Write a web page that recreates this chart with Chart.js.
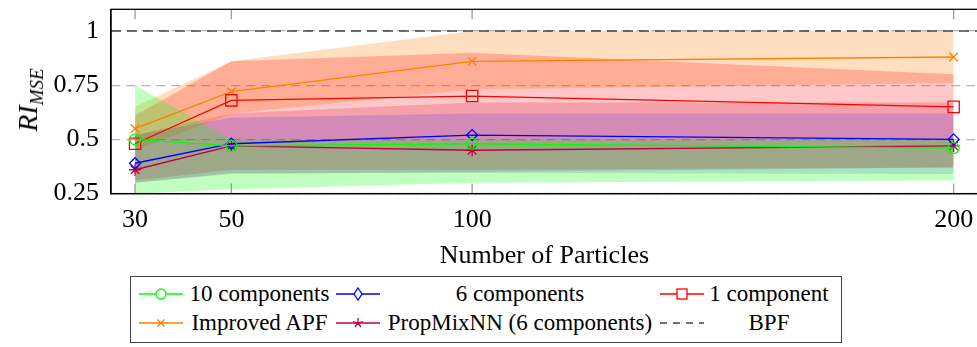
<!DOCTYPE html>
<html>
<head>
<meta charset="utf-8">
<script src="https://cdn.jsdelivr.net/npm/chart.js@4.4.0/dist/chart.umd.min.js"></script>
<style>
  html, body { margin: 0; padding: 0; background: #fff; overflow: hidden; width: 977px; height: 347px; }
  #wrap { position: relative; width: 977px; height: 347px; overflow: hidden; }
  #chartBox { position: absolute; left: 0; top: 0; width: 987px; height: 276px; }
  #ytitle {
    position: absolute; left: 30px; top: 100px;
    transform: translate(-50%, -50%) rotate(-90deg);
    font-family: 'Liberation Serif', serif; font-style: italic; font-size: 28px;
    white-space: nowrap; color: #000;
  }
  #ytitle sub { font-size: 19px; vertical-align: -6px; }
  #legend {
    position: absolute; left: 130px; top: 276px; width: 712px; height: 67px;
    border: 1.3px solid #444; box-sizing: border-box;
  }
  #legendGrid {
    position: absolute; left: 8px; top: 2px;
    display: grid; grid-template-columns: 44px 153px 44px 280px 44px 130px;
    grid-auto-rows: 29px;
    font-family: 'Liberation Serif', serif; font-size: 23px; color: #000;
  }
  #legendGrid .txt { text-align: center; line-height: 29px; white-space: nowrap; }
  #legendGrid svg { display: block; margin-top: 2px; }
</style>
</head>
<body>
<div id="wrap">
  <div id="chartBox"><canvas id="riChart" width="987" height="276"></canvas></div>
  <div id="ytitle">RI<sub>MSE</sub></div>
  <div id="legend"><div id="legendGrid"></div></div>
</div>
<script>
// Number of particles (x axis)
const particles = [30, 50, 100, 200];
const xTicks = [30, 50, 100, 200];
const yTicks = [0.25, 0.5, 0.75, 1];
const yTickLabels = ['0.25', '0.5', '0.75', '1'];
const xMin = 25, xMax = 205;

// Mean RI_MSE per method
const comp10 = [0.50, 0.47, 0.48, 0.46];
const comp6 = [0.39, 0.48, 0.52, 0.50];
const comp1 = [0.48, 0.68, 0.70, 0.65];
const apf = [0.55, 0.72, 0.86, 0.88];
const propMix = [0.36, 0.47, 0.45, 0.47];
const bpf = [1, 1];

// Shaded spread (lower / upper) per method
const comp10Low = [0.25, 0.27, 0.30, 0.31];
const comp10High = [0.75, 0.50, 0.50, 0.50];
const comp6Low = [0.30, 0.345, 0.345, 0.34];
const comp6High = [0.52, 0.60, 0.62, 0.62];
const comp1Low = [0.31, 0.36, 0.36, 0.37];
const comp1High = [0.61, 0.86, 0.90, 0.80];
const apfLow = [0.45, 0.62, 0.73, 0.76];
const apfHigh = [0.65, 0.86, 1.0, 1.0];
const propMixLow = [0.30, 0.34, 0.35, 0.37];
const propMixHigh = [0.52, 0.62, 0.67, 0.67];

const FONT = "'Liberation Serif', serif";
Chart.defaults.font.family = FONT;
Chart.defaults.color = '#000';

function pts(xs, ys) {
    return xs.map((x, i) => ({ x: x, y: ys[i] }));
}

// Series styles
const series = [
    { label: '10 components', data: comp10, low: comp10Low, high: comp10High, color: '#00ff00', fill: 'rgba(0,255,0,0.25)', style: 'circle', r: 5.5 },
    { label: '6 components', data: comp6, low: comp6Low, high: comp6High, color: '#0000ff', fill: 'rgba(0,0,255,0.14)', style: 'rectRot', r: 5.5 },
    { label: '1 component', data: comp1, low: comp1Low, high: comp1High, color: '#ff0000', fill: 'rgba(255,0,0,0.22)', style: 'rect', r: 8 },
    { label: 'Improved APF', data: apf, low: apfLow, high: apfHigh, color: '#ff8000', fill: 'rgba(255,128,0,0.25)', style: 'crossRot', r: 6 },
    { label: 'PropMixNN (6 components)', data: propMix, low: propMixLow, high: propMixHigh, color: '#bf0040', fill: 'rgba(191,0,64,0.2)', style: 'star', r: 6 }
];

const datasets = [];
// Bands first (lower then upper filled to previous)
series.forEach(s => {
    datasets.push({
        data: pts(particles, s.low), borderWidth: 0, pointRadius: 0, fill: false
    });
    datasets.push({
        data: pts(particles, s.high), borderWidth: 0, pointRadius: 0,
        fill: '-1', backgroundColor: s.fill
    });
});
// Mean lines
series.forEach(s => {
    datasets.push({
        label: s.label,
        data: pts(particles, s.data),
        borderColor: s.color,
        borderWidth: 1.3,
        pointStyle: s.style,
        pointRadius: s.r,
        pointBorderColor: s.color,
        pointBackgroundColor: 'rgba(0,0,0,0)',
        pointBorderWidth: 1.3,
        fill: false
    });
});
// BPF reference
datasets.push({
    label: 'BPF',
    data: pts([xMin, xMax], bpf),
    borderColor: '#444',
    borderWidth: 1.5,
    borderDash: [10, 6],
    pointRadius: 0,
    fill: false
});

// Frame and inner tick marks
const framePlugin = {
    id: 'frame',
    beforeDraw(chart) {
        const { ctx, chartArea, scales } = chart;
        ctx.save();
        ctx.strokeStyle = '#9a9a9a';
        ctx.lineWidth = 1.3;
        xTicks.forEach(v => {
            const px = scales.x.getPixelForValue(v);
            ctx.beginPath();
            ctx.moveTo(px, chartArea.top);
            ctx.lineTo(px, chartArea.top + 10);
            ctx.moveTo(px, chartArea.bottom);
            ctx.lineTo(px, chartArea.bottom - 10);
            ctx.stroke();
        });
        ctx.restore();
    },
    afterDraw(chart) {
        const { ctx, chartArea } = chart;
        ctx.save();
        ctx.strokeStyle = '#000';
        ctx.lineWidth = 1.3;
        ctx.strokeRect(chartArea.left, chartArea.top, chartArea.right - chartArea.left, chartArea.bottom - chartArea.top);
        ctx.restore();
    }
};

const ctx = document.getElementById('riChart').getContext('2d');
const riChart = new Chart(ctx, {
    type: 'line',
    data: { datasets: datasets },
    options: {
        responsive: false,
        animation: false,
        layout: { padding: { top: 7, right: 0, left: 0, bottom: 0 } },
        elements: { line: { tension: 0 } },
        plugins: {
            legend: { display: false },
            tooltip: { enabled: false },
            filler: { drawTime: 'beforeDatasetsDraw' }
        },
        scales: {
            x: {
                type: 'linear',
                min: xMin,
                max: xMax,
                afterBuildTicks: scale => { scale.ticks = xTicks.map(v => ({ value: v })); },
                afterFit: scale => { scale.paddingLeft = 0; scale.paddingRight = 0; },
                ticks: {
                    font: { size: 26 },
                    padding: 11,
                    color: '#000',
                    callback: v => String(v)
                },
                grid: { display: false, drawTicks: false },
                border: { display: true, color: '#000', width: 1.3 },
                title: {
                    display: true,
                    text: 'Number of Particles',
                    font: { size: 26 },
                    color: '#000',
                    padding: { top: -6, bottom: 4 }
                }
            },
            y: {
                type: 'linear',
                min: 0.25,
                max: 1.1,
                afterBuildTicks: scale => { scale.ticks = yTicks.map(v => ({ value: v })); },
                afterFit: scale => { scale.width = 111; scale.paddingTop = 0; scale.paddingBottom = 0; },
                ticks: {
                    font: { size: 26 },
                    padding: 12,
                    color: '#000',
                    callback: (v, i) => yTickLabels[i]
                },
                grid: { color: 'rgba(150,150,150,0.7)', lineWidth: 1.3, drawTicks: false },
                border: { display: true, color: '#000', width: 1.3, dash: [9, 6] }
            }
        }
    },
    plugins: [framePlugin]
});

// Redraw once the serif font is ready for the canvas
if (document.fonts && document.fonts.load) {
    document.fonts.load("26px 'Liberation Serif'").then(() => riChart.update());
}

// HTML legend (3 columns x 2 rows, like the pgfplots legend)
const legendItems = [
    series[0], series[1], series[2],
    series[3], series[4],
    { label: 'BPF', color: '#444', style: 'dash' }
];

function markerSvg(item) {
    const c = item.color;
    let mark = '';
    if (item.style === 'circle') mark = `<circle cx="22" cy="13" r="5" fill="#fff" stroke="${c}" stroke-width="1.3"/>`;
    if (item.style === 'rectRot') mark = `<polygon points="22,7 26,13 22,19 18,13" fill="#fff" stroke="${c}" stroke-width="1.3"/>`;
    if (item.style === 'rect') mark = `<rect x="17" y="8" width="10" height="10" fill="#fff" stroke="${c}" stroke-width="1.3"/>`;
    if (item.style === 'crossRot') mark = `<path d="M18.5,9.5 L25.5,16.5 M25.5,9.5 L18.5,16.5" stroke="${c}" stroke-width="1.3"/>`;
    if (item.style === 'star') mark = `<path d="M22,8 L22,13 M22,13 L26.8,11.5 M22,13 L25,17 M22,13 L19,17 M22,13 L17.2,11.5" stroke="${c}" stroke-width="1.3"/>`;
    const line = item.style === 'dash'
        ? `<line x1="0" y1="13" x2="44" y2="13" stroke="${c}" stroke-width="1.4" stroke-dasharray="7,6"/>`
        : `<line x1="0" y1="13" x2="44" y2="13" stroke="${c}" stroke-width="1.3"/>`;
    return `<svg width="44" height="26" viewBox="0 0 44 26">${line}${mark}</svg>`;
}

const grid = document.getElementById('legendGrid');
legendItems.forEach(item => {
    const sample = document.createElement('div');
    sample.innerHTML = markerSvg(item);
    grid.appendChild(sample);
    const txt = document.createElement('div');
    txt.className = 'txt';
    txt.textContent = item.label;
    grid.appendChild(txt);
});
</script>
</body>
</html>
